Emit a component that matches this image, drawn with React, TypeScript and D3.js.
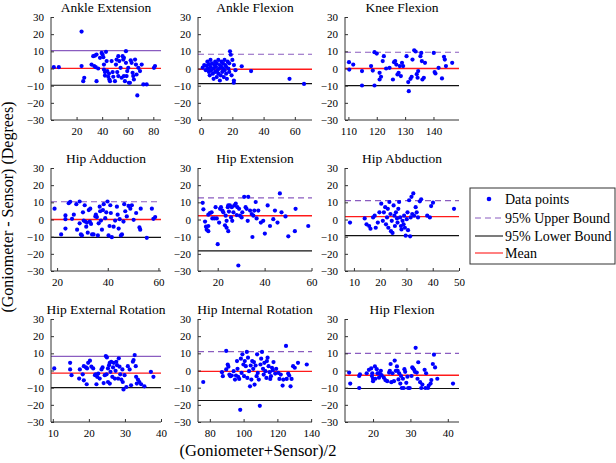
import React, { useRef, useEffect } from 'react';
import * as d3 from 'd3';

// panel titles, in subplot order
const titles = [
  'Ankle Extension', 'Ankle Flexion', 'Knee Flexion',
  'Hip Adduction', 'Hip Extension', 'Hip Abduction',
  'Hip External Rotation', 'Hip Internal Rotation', 'Hip Flexion',
];

// limits of agreement and mean difference for each panel
const upperBounds = [10.4, 8.3, 9.5, 10.3, 12.6, 11, 8.2, 11, 10];
const means = [0.1, -0.4, 0, 0, 2.2, 1.7, -1.5, -0.5, -2.8];
const lowerBounds = [-9.8, -8.8, -10, -10.4, -18.3, -9.4, -10, -17.5, -10.5];

// x ranges (axis tight) and tick labels
const xDomains = [
  [0, 86], [-2, 71], [108.8, 149],
  [17.6, 61], [11.6, 60.2], [6.6, 50],
  [9.5, 40], [73, 140.5], [12.5, 43],
];
const xTicks = [
  [20, 40, 60, 80], [0, 20, 40, 60], [110, 120, 130, 140],
  [20, 40, 60], [20, 40, 60], [10, 20, 30, 40, 50],
  [10, 20, 30, 40], [80, 100, 120, 140], [20, 30, 40],
];
const yTicks = [-30, -20, -10, 0, 10, 20, 30];

// points: [mean of both, difference]
const ankleExtension = [
  [2.2, 0.8], [6.1, 0.8], [23.9, 21.5], [23.9, 1.4], [26, -5.4], [25.2, -7.4], [31.7, 2.3], [33, 7.2],
  [34.3, 7.5], [35.6, 8.1], [33.8, 1.4], [35, 0.8], [36.9, 0], [35.6, -7.4], [38.3, 6.2], [39.6, 9.1],
  [40.3, 8.1], [40.9, 6.6], [41.4, 2.3], [41.4, -0.6], [42.2, -2.1], [42.2, -4.1], [43, 9.7], [43.5, 4.3],
  [44, -1.5], [44.8, -4.8], [45.3, -2.9], [45.6, -6.4], [46.1, -7.4], [47.4, 4.3], [48.2, -2.1], [48.7, -4.8],
  [50, -7.4], [50.8, 2.3], [51.3, 5.2], [51.8, -2.1], [52.6, 7.2], [52.6, -4.4], [53.4, 4.3], [54.4, 0.4],
  [55.2, -5.4], [56, 7.2], [56.5, 5.2], [57, 6.2], [57, -4.4], [57.8, -7.4], [58.6, 10.1], [58.6, 3.3],
  [59.1, -4.4], [59.6, -1.5], [60.4, 0.4], [60.9, -8.3], [61.7, -8.3], [62.3, 4.8], [63, 3.3], [63.8, -2.5],
  [64.3, -4.4], [64.8, -6.4], [65.7, 5.2], [66.4, 2.3], [66.9, -3.5], [67.5, -15.7], [68.3, 0.4], [69.6, -1.5],
  [70.9, 2.3], [72.2, -9.3], [74.8, -9.3], [80.5, 0.4], [81.3, 1.4],
];
const ankleFlexion = [
  [1, 0.5], [2, 2], [3, -1], [3.5, 1.5], [4, 4], [4.5, 0], [5, -2], [5, 2.5], [5.5, -4], [6, 1], [6, 5],
  [6.5, -1], [7, 3], [7.5, -3], [8, 0], [8, -6], [8.5, 2], [9, 4], [9, -2], [9.5, 1], [10, -5], [10, 3],
  [10.5, -1], [11, 5], [11, -3], [11.5, 0], [12, 2], [12, -7], [12.5, -4], [13, 1], [13, 4], [13.5, -2],
  [14, 0], [14, 3], [14.5, -5], [15, 5], [15, -1], [15.5, 2], [16, -3], [16, 1], [16.5, -6], [17, 4],
  [17.5, 0], [18, 3], [18, -2], [18.5, 10], [19, 8], [19.5, -4], [20, 5], [20.9, -8.3], [21, 2], [21, -7],
  [22, -1], [26, 1.3], [32, -1.5], [56.6, -6], [65.9, -9],
];
const kneeFlexion = [
  [110.2, 3.7], [110.3, -0.6], [111.7, 2.3], [114.8, -1.5], [114.8, -9.9], [118, 1.4], [118.6, -1.2],
  [119.2, 9.5], [120, 8.7], [119.2, -9.9], [121, -2.5], [121, -6.4], [121.5, -4.8], [122.1, 4.3],
  [122.5, 7.2], [123.3, 0], [124.5, 0.4], [125.7, -6.4], [126.1, 3.7], [126.5, 4.3], [126.9, 2.3],
  [127.3, -3.5], [127.7, -2.5], [128.1, 1.4], [128.5, -4.4], [128.9, 3.3], [129.3, 1.4], [130.5, 7.2],
  [131.1, -7.9], [131.3, -13.2], [131.9, -6], [132.3, -4.8], [132.6, 5.2], [133.2, 10.6], [133.7, 9.9],
  [134.1, -3.3], [134.4, -5.4], [134.6, -1.5], [135.4, 7.2], [135.7, 9.1], [135.9, 4.3], [136.1, -6.4],
  [136.6, -5.4], [137, 3.3], [140.1, 9.1], [140.4, -2.1], [140.7, -2.9], [141.8, 0.4], [143, -5.8],
  [143.7, 6.8], [144, 5.2], [144.4, 1.4], [146.6, 3.3],
];
const hipAdduction = [
  [19, 6.3], [21.6, -8.7], [23.3, 2.4], [23.3, 0.2], [23.3, -5.3], [24.6, 9.5], [25.2, 10.3], [25.9, 0.4],
  [26.6, 2.8], [27.6, 8.9], [27.9, -5.9], [28.9, 10.5], [28.9, -2.2], [29.4, -8.7], [29.8, -9.3], [30.2, 4.2],
  [30.5, -0.6], [30.9, 8.3], [31.1, -1.2], [31.5, -4.2], [31.8, -1.8], [32.1, -7.7], [32.5, 5.5], [32.9, -1.2],
  [33.1, 6.3], [33.4, -2.6], [33.8, -8.7], [34.4, -8.7], [35.1, 1.8], [35.3, 2.8], [35.7, 1.4], [36.1, -9.3],
  [36.4, -2.2], [36.8, 7.5], [37, 4.8], [37.3, -0.6], [37.7, -5.9], [38.1, 5.5], [38.4, 8.9], [39, 0.8],
  [39.4, 4.2], [39.9, 10.5], [40.3, -9.3], [40.7, -3.8], [41, 8.3], [41.2, 3.8], [41.6, -10.3], [42.3, -4.2],
  [42.9, -0.6], [43.6, 7.5], [43.9, 2.8], [44.3, -5.3], [44.7, 0.2], [45.2, -9.3], [45.6, -8.7], [46.2, -1.2],
  [46.5, 8.9], [46.9, 4.8], [47.5, 1.8], [48.2, 7.9], [48.9, 6.3], [49.5, 8.3], [50.2, -0.2], [51.2, 3.8],
  [52.5, -4.6], [52.8, -5.9], [53, 6.3], [55.4, -10.7], [57.4, 6.3], [58, 0.4], [58.7, 1.4],
];
const hipExtension = [
  [13.6, 9.7], [13.9, 5.9], [14.6, -1.2], [15, -4.2], [15.3, -5.9], [16, 2.8], [16.7, 3.8], [16, -3.8],
  [16, -6.8], [17.4, 4.2], [17.7, 0.6], [18.6, 0.6], [19.1, 7.2], [19.6, 0.6], [20, -14.4], [20.6, -1.8],
  [21, 6.2], [21.4, 7.2], [22, 5.2], [22.4, 4.2], [23.1, -3.4], [23.4, 2.2], [23.8, -0.8], [23.8, -4.8],
  [24.3, 7.2], [24.5, 8.2], [24.5, -6.8], [24.8, 4.6], [25.2, 8.2], [25.7, 1.2], [26, 7.2], [26.2, -0.8],
  [26.7, 4.2], [27.1, 8.2], [27.7, 9.2], [28.1, 2.6], [28.4, 7.2], [28.8, -26.8], [29.1, 6.2], [29.5, 2.2],
  [30.2, 1.2], [30.5, 4.2], [31.3, 13.2], [31.9, 7.2], [32.3, 6.2], [32.8, -0.8], [33, 13.2], [33.8, 5.2],
  [34.5, 3.2], [34.8, -10.2], [35.2, 2.2], [35.6, 5.2], [36.2, 10.2], [36.6, 0.6], [37.3, 5.2], [38.4, -1.8],
  [39.4, -0.8], [40.1, -8.2], [41.3, 8.2], [42.3, -3.8], [43.7, 0.2], [44.4, 5.2], [45.5, -1.8], [46.5, 15.2],
  [47.2, 4.2], [48.9, 1.8], [50.1, -9.8], [52.9, -6.8], [53.2, 6.2], [58.6, -3.8],
];
const hipAbduction = [
  [8.5, -1.8], [14.1, 0.6], [14.8, -2.8], [15.8, -3.8], [16.3, -5.4], [17.3, 1.2], [17.9, 2.2], [18.3, -4.8],
  [19.1, -1.8], [19.7, 4.2], [20.4, 9.2], [21, -0.8], [21.4, 4.2], [21.9, 7.2], [22.2, -2.8], [22.6, 1.2],
  [22.9, 6.2], [23.1, -4.8], [23.5, 10.2], [23.9, 3.2], [24.1, -6.8], [24.4, -0.8], [24.7, -7.8], [25.1, 8.2],
  [25.4, 2.2], [25.6, -3.8], [26, 4.2], [26.4, 0.6], [26.6, -1.8], [26.9, 6.2], [27.2, 10.2], [27.6, 1.2],
  [27.9, -3.8], [28.1, -5.8], [28.5, -0.8], [28.9, -2.8], [29.1, 2.2], [29.4, -4.8], [29.7, -9.4], [30.1, 0.2],
  [30.4, 4.2], [30.6, -6.2], [31, 11.2], [31.4, -9.8], [31.6, 1.2], [31.9, 13.2], [32.2, 3.2], [32.6, 15.2],
  [32.9, 2.2], [33.5, 7.2], [33.9, 4.2], [34.4, 1.2], [35.1, 10.6], [35.6, 11.8], [37.9, 2.2], [38.9, 1.2],
  [39.4, 7.8], [40.1, 9.8], [48.1, 6.2],
];
const hipExternalRotation = [
  [10.4, 1.2], [14.8, 4.5], [14.8, 0.6], [15.2, -2.7], [17.3, -4.7], [17.5, 0.6], [18.3, -2.2], [18.6, 2.5],
  [18.6, -5.7], [19.2, 1.8], [19.4, -8], [19.5, 1.2], [19.8, 4.5], [20.3, 5.7], [20.7, 2.2], [21.2, 1.2],
  [21.7, -2.7], [21.9, -2.2], [22.1, -8], [22.3, -3.7], [22.6, -1.8], [23, -4.7], [23.5, 0.6], [23.8, 1.8],
  [24.1, -7.3], [24.4, -2.7], [24.7, 8.4], [24.9, -2.2], [25, 7.6], [25.3, -6.7], [25.3, 1.2], [25.6, 3.1],
  [25.8, -7.6], [25.8, 4.5], [26, -0.8], [26.2, 5.1], [26.5, -3.7], [26.7, 1.8], [26.9, 4.5], [27.2, -4.7],
  [27.4, -0.2], [27.6, 5.1], [27.8, 3.1], [28.1, -4.7], [28.3, 7.1], [28.5, 2.2], [28.7, -2.2], [29, -5.3],
  [29.3, 0.6], [29.4, -6.7], [29.6, -11], [29.9, -2.7], [30.4, -9.6], [30.8, 2.5], [31.3, 0.6], [31.7, -8.6],
  [32.2, 5.1], [32.4, 6.1], [32.7, 9], [33, 2.5], [33.1, -3.7], [33.3, -7.6], [33.6, -5.3], [34, -6.7],
  [34.5, -8], [35.4, -9.2], [37.2, -0.8], [37.9, -3.7],
];
const hipInternalRotation = [
  [76.1, -6.7], [87.2, -1], [87.7, -3.3], [89.7, 11.4], [89.7, 0.6], [90.6, 3.5], [91, 2.2], [91.6, -2.4],
  [92.2, -3.3], [93, -2.9], [94.1, -0.4], [94.9, -5.3], [95.5, -2.9], [96.1, 5.5], [96.4, 1], [96.8, -3.7],
  [97.4, -4.9], [98, -22.9], [98.4, 6.9], [98.8, -1.4], [99.3, 9.4], [99.9, 3.5], [100.3, -3.3], [100.7, 5.5],
  [101.3, 2.5], [101.9, 10.8], [102.2, -4.3], [102.6, 7.5], [103.2, -0.4], [103.8, -9.2], [104.2, 2.9],
  [104.6, -5.3], [105.1, 5.5], [105.7, 1], [106.1, 4.9], [106.5, -8.2], [107.1, 2.9], [107.7, -3.3], [108, 9.4],
  [108.4, -1.4], [109, -5.3], [109.6, -20.6], [110, 3.5], [110.4, 6.9], [110.9, 10.8], [111.5, 1], [111.9, -2.4],
  [112.3, 4.5], [112.9, -0.4], [113.5, -4.3], [113.8, 5.5], [114.2, 7.5], [114.8, 2.5], [115.4, -1], [115.8, -4.9],
  [116.2, -3.3], [116.8, 1.6], [117.3, 0.2], [117.7, 4.9], [118.7, -1.8], [119.3, 1], [120.6, -1.4], [121.2, -4.9],
  [122, -2.4], [123.1, -8.8], [123.5, -5.3], [125.1, 14.3], [125.5, -4.9], [126.4, -1.8], [127, -2.9],
  [127.8, -9.2], [128.4, -4.9], [129.3, 2.5], [130.3, 1.6], [132.2, 4.5], [137.4, 3.5],
];
const hipFlexion = [
  [13.6, -1.2], [13.9, -7.6], [16.3, -3.2], [16.3, -10.2], [16.5, -2.2], [18.3, -1.6], [18.9, 0.4], [19.5, 1.2],
  [19.7, -3.2], [19.8, -1.6], [20, -4.8], [20, -6.2], [20.5, 2.4], [20.6, -4.8], [21, 0.8], [21.2, -1.6],
  [21.6, -4.2], [22, -2.2], [21.5, -1.6], [22.3, -2.8], [22.1, -0.2], [22.9, -4.2], [23.3, -5.6], [23.8, -6.2],
  [24.3, -1.2], [24.5, -0.2], [24.7, 3.8], [24.9, -6.8], [25.2, -1.6], [25.6, -6.2], [25.8, 5.8], [26.1, -0.2],
  [26.4, 2.4], [26.6, -0.2], [26.8, -5.2], [27, -1.6], [27.3, -7.6], [27.5, -3.2], [27.7, -10.2], [28, -4.8],
  [28.2, -10.2], [28.4, 0.8], [28.6, -0.8], [28.9, -7.2], [29.2, -3.6], [29.4, -10.2], [29.8, -10.2],
  [30.3, -3.2], [30.5, 1.8], [30.7, 1.2], [31, 0.4], [31.2, -0.8], [31.4, 13.2], [31.7, -1.2], [31.9, -4.8],
  [32.1, 4.8], [32.6, -6.8], [32.9, -10.2], [33.2, -8.2], [33.8, 0.4], [34, -10.2], [34.2, -1.6], [34.7, -10.2],
  [34.9, -8.8], [35.4, -7.6], [35.6, -5.6], [36, 3.8], [36.3, 9.2], [36.6, 1.8], [37.2, -4.8], [41.4, -7.6],
];

const panelData = [
  ankleExtension, ankleFlexion, kneeFlexion,
  hipAdduction, hipExtension, hipAbduction,
  hipExternalRotation, hipInternalRotation, hipFlexion,
];

// layout (px)
const colLeft = [51, 198, 345];
const colWidth = [110, 114, 114];
const rowTop = [17, 168, 319];
const plotH = 103;
const solidUpper = [0, 6]; // these two panels draw the upper bound as a solid line

const FONT = '"Liberation Serif", "Times New Roman", serif';
const AXIS = '#333';
const BLUE = '#0000ff';
const PURPLE = '#8a5cc0';
const RED = '#ff1a1a';

export default function App() {
  const chartRef = useRef(null);

  useEffect(() => {
    const ele = chartRef.current;
    d3.select(ele).selectAll('*').remove();
    const svg = d3.select(ele)
      .append('svg')
      .attr('width', 616)
      .attr('height', 463)
      .style('display', 'block')
      .style('background', '#fff')
      .attr('font-family', FONT);

    panelData.forEach((pts, i) => {
      const c = i % 3;
      const r = Math.floor(i / 3);
      const w = colWidth[c];
      const g = svg.append('g')
        .attr('transform', `translate(${colLeft[c]},${rowTop[r]})`);

      const x = d3.scaleLinear().domain(xDomains[i]).range([0, w]);
      const y = d3.scaleLinear().domain([-30, 30]).range([plotH, 0]);

      // reference lines
      const hline = (v, color, dash, sw) => {
        g.append('line')
          .attr('x1', 0).attr('x2', w)
          .attr('y1', y(v)).attr('y2', y(v))
          .attr('stroke', color)
          .attr('stroke-width', sw || 1.1)
          .attr('stroke-dasharray', dash || null);
      };
      hline(upperBounds[i], PURPLE, solidUpper.includes(i) ? null : '6,4');
      hline(lowerBounds[i], '#111', null);
      hline(means[i], RED, null, 1.4);

      // points
      g.append('g')
        .selectAll('circle')
        .data(pts)
        .enter()
        .append('circle')
        .attr('cx', d => x(d[0]))
        .attr('cy', d => y(d[1]))
        .attr('r', 2.1)
        .attr('fill', BLUE);

      // axes (MATLAB style: ticks pointing in, box off)
      const xAxis = d3.axisBottom(x).tickValues(xTicks[i]).tickSize(-3).tickPadding(6).tickFormat(d3.format('d'));
      const yAxis = d3.axisLeft(y).tickValues(yTicks).tickSize(-3).tickPadding(7).tickFormat(d3.format('d'));

      const gx = g.append('g').attr('transform', `translate(0,${plotH})`).call(xAxis);
      const gy = g.append('g').call(yAxis);
      [gx, gy].forEach(a => {
        a.select('.domain').remove();
        a.selectAll('.tick line').attr('stroke', AXIS);
        a.selectAll('.tick text')
          .attr('fill', '#000')
          .attr('font-family', FONT)
          .attr('font-size', 11);
      });
      g.append('line').attr('x1', 0).attr('x2', w).attr('y1', plotH).attr('y2', plotH).attr('stroke', AXIS);
      g.append('line').attr('x1', 0).attr('x2', 0).attr('y1', 0).attr('y2', plotH).attr('stroke', AXIS);
      gx.selectAll('.tick text').attr('dy', '0.85em');

      // title
      g.append('text')
        .attr('x', w / 2)
        .attr('y', -5.5)
        .attr('text-anchor', 'middle')
        .attr('font-size', 13.5)
        .attr('fill', '#000')
        .text(titles[i]);
    });

    // axis labels
    svg.append('text')
      .attr('x', 258)
      .attr('y', 456)
      .attr('text-anchor', 'middle')
      .attr('font-size', 16.5)
      .attr('fill', '#000')
      .text('(Goniometer+Sensor)/2');

    svg.append('text')
      .attr('transform', 'translate(13,207) rotate(-90)')
      .attr('text-anchor', 'middle')
      .attr('font-size', 16)
      .attr('fill', '#000')
      .text('(Goniometer - Sensor) (Degrees)');

    // legend
    const lg = svg.append('g').attr('transform', 'translate(470,188)');
    lg.append('rect')
      .attr('width', 145).attr('height', 76)
      .attr('fill', '#fff')
      .attr('stroke', AXIS)
      .attr('stroke-width', 1);
    const items = [
      { label: 'Data points', type: 'dot' },
      { label: '95% Upper Bound', type: 'line', color: PURPLE, dash: '6,4' },
      { label: '95% Lower Bound', type: 'line', color: '#111' },
      { label: 'Mean', type: 'line', color: RED },
    ];
    const rowY = [11, 30, 48, 65];
    items.forEach((it, k) => {
      const yy = rowY[k];
      if (it.type === 'dot') {
        lg.append('circle').attr('cx', 19).attr('cy', yy).attr('r', 2.3).attr('fill', BLUE);
      } else {
        lg.append('line')
          .attr('x1', 5).attr('x2', 33)
          .attr('y1', yy).attr('y2', yy)
          .attr('stroke', it.color)
          .attr('stroke-width', 1.1)
          .attr('stroke-dasharray', it.dash || null);
      }
      lg.append('text')
        .attr('x', 35)
        .attr('y', yy)
        .attr('dy', '0.35em')
        .attr('font-size', 14)
        .attr('fill', '#000')
        .text(it.label);
    });
  }, []);

  return (
    <div ref={chartRef} style={{ position: 'absolute', top: 0, left: 0 }}></div>
  );
}
